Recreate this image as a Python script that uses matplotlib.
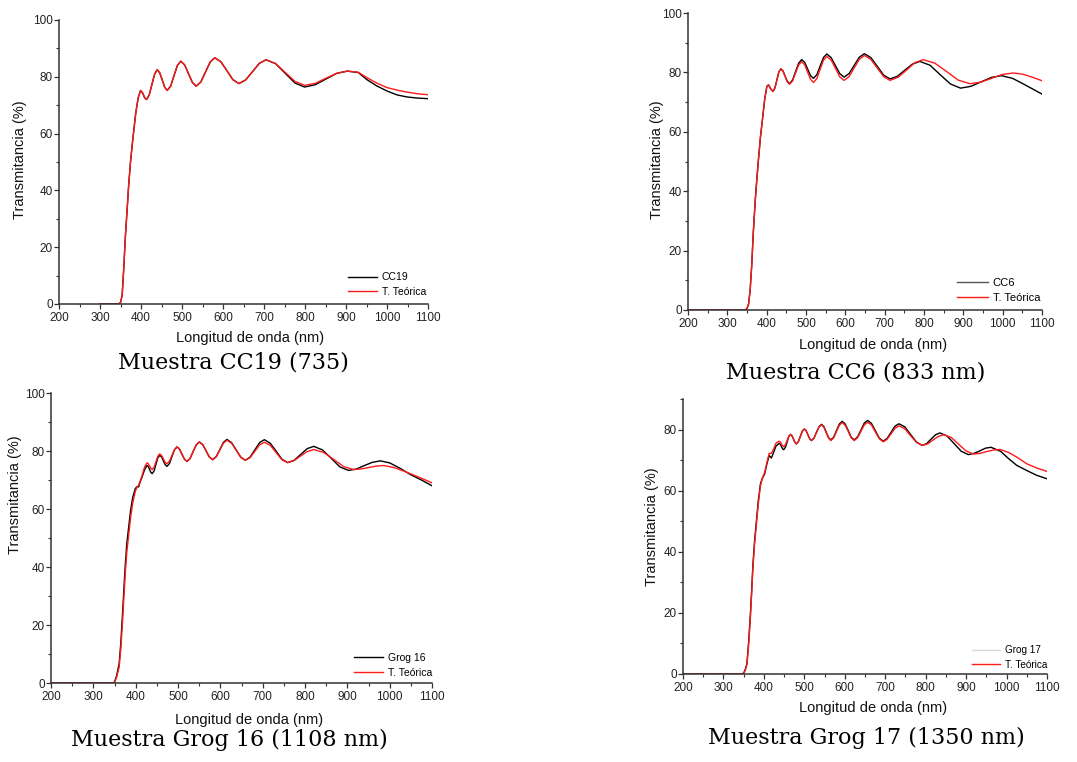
import matplotlib
matplotlib.use("Agg")
import matplotlib.pyplot as plt
from matplotlib.ticker import MultipleLocator

plt.rcParams['font.family'] = ['Liberation Sans', 'DejaVu Sans']

# ---------------- data ----------------
# Panel 1: CC19
cc19_wl = [300, 345, 350, 354, 358, 362, 366.5, 370, 374.7, 380, 387, 393, 399, 404, 409, 413.6,
           420.1, 426.6, 433.1, 439.6, 445.7, 451.8, 457.9, 464, 472.3, 480.5, 488.8, 497,
           506.4, 515.9, 525.3, 534.7, 546, 557.4, 568.7, 580, 594.7, 609.4, 624, 638.7,
           655.3, 671.9, 688.4, 705, 728.5, 752, 775.5, 799, 825, 851, 877, 903,
           930, 951, 975, 1000, 1025, 1049, 1075, 1100]
cc19_exp = [0, 0, 0.5, 3, 12.7, 24, 34, 42, 50.5, 58, 67, 72.5, 75.2, 74.3, 72.6, 72,
            73.6, 77.3, 80.9, 82.5, 81.4, 78.9, 76.3, 75.2, 76.7, 80.4, 84.0, 85.5,
            84.2, 81.1, 78.0, 76.7, 78.2, 81.7, 85.2, 86.7, 85.3, 82.2, 79.0, 77.6,
            78.9, 81.8, 84.7, 86.0, 84.6, 81.2, 77.8, 76.4, 77.2, 79.2, 81.2, 82.0,
            81.5, 79.0, 76.8, 75.0, 73.6, 72.9, 72.5, 72.3]
cc19_teo = [0, 0, 0.5, 3, 12.7, 24, 34, 42, 50.5, 58, 67, 72.5, 75.2, 74.3, 72.6, 72,
            73.6, 77.3, 80.9, 82.5, 81.4, 78.9, 76.3, 75.2, 76.7, 80.4, 84.0, 85.5,
            84.2, 81.1, 78.0, 76.7, 78.2, 81.7, 85.2, 86.7, 85.3, 82.2, 79.0, 77.6,
            78.9, 81.8, 84.7, 86.0, 84.65, 81.5, 78.4, 77.0, 77.7, 79.5, 81.2, 82.0,
            81.6, 79.7, 77.8, 76.2, 75.3, 74.6, 74.0, 73.7]

# Panel 2: CC6
cc6_wl = [200, 345, 350, 354, 358, 362, 366, 371, 375, 379, 384, 390, 395, 400.5, 404.7, 410, 415.7,
          420.8, 425.9, 430.9, 436, 441.5, 447, 452.5, 458, 465.8, 473.5, 481.3, 489,
          496.5, 504, 511.5, 519, 527.5, 535.9, 544.4, 552.8, 563.8, 574.8, 585.8, 596.8,
          609.7, 622.6, 635.5, 648.4, 664.7, 681, 697.2, 713.5, 732.5, 751.6, 770.6, 789.7,
          815.5, 841.3, 867.2, 893, 919, 945, 971, 997, 1025, 1050, 1075, 1100]
cc6_exp = [0, 0, 0.5, 2, 6.7, 15, 26, 37, 44, 50.5, 58, 65, 71, 75.3, 75.8, 74.5, 73.6,
           74.7, 77.4, 80.1, 81.2, 80.5, 78.7, 77.0, 76.2, 77.4, 80.3, 83.1, 84.3,
           83.4, 81.2, 78.9, 78.0, 79.2, 82.1, 85.0, 86.2, 85.0, 82.3, 79.6, 78.4,
           79.6, 82.4, 85.1, 86.3, 85.0, 82.1, 79.1, 77.8, 78.7, 80.8, 82.8, 83.7,
           82.4, 79.2, 76.1, 74.7, 75.3, 76.8, 78.3, 78.9, 78.0, 76.3, 74.5, 72.7]
cc6_teo_wl = cc6_wl[:49] + [734.6, 755.8, 776.9, 798, 827.7, 857.3, 887, 916.6,
                            944, 971.6, 999, 1026.6, 1051, 1075, 1100]
cc6_teo = [0, 0, 0.5, 2, 6.7, 15, 26, 37, 44, 50.5, 58, 65, 71, 75.3, 75.8, 74.5, 73.6,
           74.7, 77.4, 80.1, 81.2, 80.4, 78.6, 76.8, 76.0, 77.1, 79.8, 82.5, 83.6,
           82.6, 80.1, 77.7, 76.6, 77.9, 81.0, 84.1, 85.4, 84.2, 81.4, 78.5, 77.3,
           78.6, 81.5, 84.4, 85.7, 84.4, 81.5, 78.6, 77.3, 78.4, 80.8, 83.3, 84.3,
           83.1, 80.3, 77.4, 76.2, 76.7, 78.0, 79.3, 79.8, 79.4, 78.4, 77.2]

# Panel 3: Grog 16
g16_wl = [200, 345, 350, 355, 361, 365, 369, 372, 375.6, 379, 383.5, 388, 393, 399, 403, 407,
          411, 415, 421, 426.8,
          429.9, 432.9, 436, 439, 443.4, 447.9, 452.3, 456.7, 461, 465.4, 469.7, 474,
          479.9, 485.8, 491.7, 497.6, 503.5, 509.3, 515.2, 521, 528.4, 535.7, 543.1, 550.4,
          558.3, 566.2, 574.1, 582, 590.4, 598.9, 607.3, 615.7, 626.5, 637.4, 648.2, 659,
          670.3, 681.5, 692.8, 704, 717.8, 731.5, 745.3, 759, 774.4, 789.8, 805.1, 820.5,
          841.1, 861.8, 882.4, 903, 921.8, 940.5, 959.3, 978,
          1000, 1025, 1050, 1075, 1100]
g16_exp = [0, 0, 0.3, 2.5, 6.7, 14, 24, 32, 41, 48, 53.8, 59.5, 64, 67, 67.7, 67.6,
           69.5, 71, 73.5, 75,
           74.6, 73.6, 72.6, 72.2, 73.1, 75.4, 77.6, 78.5, 78.0, 76.6, 75.3, 74.7,
           75.7, 78.1, 80.4, 81.4, 80.7, 78.9, 77.2, 76.4, 77.4, 79.8, 82.1, 83.1,
           82.2, 80.1, 77.9, 77.0, 78.1, 80.5, 83.0, 84.0, 82.9, 80.4, 77.9, 76.8,
           77.9, 80.4, 82.9, 83.9, 82.7, 80.0, 77.2, 76.0, 76.8, 78.8, 80.8, 81.6,
           80.4, 77.5, 74.5, 73.3, 73.8, 75.0, 76.1, 76.6,
           75.9, 74.0, 71.8, 70.0, 68.0]
g16_teo_wl = g16_wl[:68] + [844.1, 867.8, 891.4, 915, 932.8, 950.5, 968.3, 986,
                            1010, 1035, 1060, 1080, 1100]
g16_teo = [0, 0, 0.2, 2, 5.5, 12, 21, 29, 38, 45, 51, 57, 62, 66, 67.5, 68.2,
           69.8, 71.5, 74.5, 75.9,
           75.6, 74.8, 74.0, 73.6, 74.4, 76.3, 78.2, 79.0, 78.5, 77.3, 76.1, 75.6,
           76.5, 78.5, 80.5, 81.4, 80.7, 78.9, 77.2, 76.4, 77.4, 79.8, 82.1, 83.1,
           82.2, 80.1, 77.9, 77.0, 78.0, 80.4, 82.7, 83.7, 82.7, 80.3, 77.8, 76.8,
           77.7, 79.9, 82.1, 83.0, 82.0, 79.5, 77.0, 76.0, 76.7, 78.3, 79.8, 80.5,
           79.5, 77.1, 74.6, 73.6, 73.8, 74.3, 74.8, 75.0,
           74.3, 73.0, 71.5, 70.3, 69.0]

# Panel 4: Grog 17
g17_wl = [200, 345, 350, 354, 358, 362, 366.7, 370, 373, 377, 381.5, 386, 391.4, 396, 402, 407,
          413, 418.6, 424, 430, 437.6,
          440.5, 443.3, 446.2, 449, 453.2, 457.4, 461.5, 465.7, 469.4, 473.1, 476.8, 480.5,
          485.4, 490.3, 495.1, 500, 504.4, 508.8, 513.2, 517.6, 523.8, 530, 536.2, 542.4,
          548.2, 554, 559.8, 565.5, 572.5, 579.6, 586.6, 593.6, 601, 608.5, 615.9, 623.3,
          631.6, 639.8, 648.1, 656.3, 666, 675.7, 685.3, 695, 704.7, 714.4, 724.1, 733.8,
          748.3, 762.7, 777.2, 791.6, 802.5, 813.5, 824.4, 835.3, 852.8, 870.4, 887.9, 905.4,
          919.5, 933.5, 947.6, 961.6, 985, 1005, 1025, 1050, 1075, 1100]
g17_exp = [0, 0, 0.3, 1.5, 3.4, 10, 19.7, 28, 36, 43.5, 50, 56.5, 62.2, 64, 65.5, 68.5,
           71.5, 70.7, 72.5, 74.6, 75.5,
           75.2, 74.5, 73.7, 73.4, 74.2, 75.9, 77.7, 78.4, 78.0, 76.9, 75.8, 75.3,
           76.1, 77.8, 79.5, 80.2, 79.6, 78.3, 77.0, 76.4, 77.2, 79.1, 80.9, 81.7,
           81.0, 79.2, 77.4, 76.6, 77.5, 79.7, 81.8, 82.7, 81.8, 79.7, 77.5, 76.6,
           77.6, 79.8, 82.1, 83.0, 82.0, 79.6, 77.2, 76.2, 77.1, 79.1, 81.1, 81.9,
           80.9, 78.4, 75.9, 74.8, 75.4, 76.9, 78.3, 78.9, 77.9, 75.4, 72.9, 71.8,
           72.2, 73.0, 73.9, 74.2, 72.9, 70.5, 68.3, 66.6, 65.0, 63.9]
g17_teo_wl = g17_wl[:73] + [805, 818.3, 831.7, 845, 863.3, 881.5, 899.8, 918,
                            934.5, 950.9, 967.4, 983.8, 1005, 1025, 1050, 1075, 1100]
g17_teo = [0, 0, 0.2, 1.2, 3, 9, 18.5, 27, 35, 42.5, 49, 55.5, 61.5, 64, 66, 69,
           72.2, 72.2, 73.6, 75.6, 76.2,
           76.0, 75.3, 74.7, 74.4, 75.0, 76.4, 77.8, 78.4, 78.0, 76.9, 75.8, 75.3,
           76.1, 77.8, 79.5, 80.2, 79.6, 78.3, 77.0, 76.4, 77.2, 79.0, 80.8, 81.5,
           80.8, 79.0, 77.2, 76.4, 77.3, 79.4, 81.4, 82.3, 81.4, 79.4, 77.3, 76.4,
           77.3, 79.4, 81.5, 82.4, 81.5, 79.2, 77.0, 76.0, 76.8, 78.6, 80.4, 81.2,
           80.3, 78.0, 75.8, 74.8, 75.3, 76.6, 77.8, 78.3, 77.4, 75.2, 73.0, 72.0,
           72.2, 72.8, 73.3, 73.5, 72.5, 71.0, 68.8, 67.4, 66.3]

exp_labels = ["CC19", "CC6", "Grog 16", "Grog 17"]
captions = ["Muestra CC19 (735)", "Muestra CC6 (833 nm)",
            "Muestra Grog 16 (1108 nm)", "Muestra Grog 17 (1350 nm)"]
y_tops = [100, 100, 100, 90]

# ---------------- layout (pixels) ----------------
W, H = 1077, 762


def rect(l, t, r, b):
    return [l / W, 1 - b / H, (r - l) / W, (b - t) / H]


def fx(x):
    return x / W


def fy(y):
    return 1 - y / H


panels = [
    dict(box=(59, 20, 428, 304), wl=cc19_wl, e=cc19_exp, twl=cc19_wl, t=cc19_teo,
         leg=(0.995, 0.025), legfs=7.5, xl=(250, 338), yl=(20, 160), cap=(233, 362)),
    dict(box=(688, 13, 1042, 310), wl=cc6_wl, e=cc6_exp, twl=cc6_teo_wl, t=cc6_teo,
         leg=(0.995, 0.025), legfs=8, xl=(873, 345), yl=(657, 160), cap=(856, 372)),
    dict(box=(51, 393, 432, 683), wl=g16_wl, e=g16_exp, twl=g16_teo_wl, t=g16_teo,
         leg=(1.0, 0.018), legfs=7.5, xl=(249, 720), yl=(15, 495), cap=(229, 740)),
    dict(box=(683, 399, 1047, 674), wl=g17_wl, e=g17_exp, twl=g17_teo_wl, t=g17_teo,
         leg=(1.0, 0.015), legfs=7.2, xl=(873, 708), yl=(652, 527), cap=(866, 738)),
]

fig = plt.figure(figsize=(W / 100, H / 100), dpi=100)

for i, p in enumerate(panels):
    ax = fig.add_axes(rect(*p["box"]))
    ax.plot(p["wl"], p["e"], color="black", lw=1.0, label=exp_labels[i])
    ax.plot(p["twl"], p["t"], color="#ff1a1a", lw=1.0, label="T. Teórica")
    ax.set_xlim(200, 1100)
    ax.set_ylim(0, y_tops[i])
    ax.xaxis.set_major_locator(MultipleLocator(100))
    ax.xaxis.set_minor_locator(MultipleLocator(50))
    ax.yaxis.set_major_locator(MultipleLocator(20))
    ax.yaxis.set_minor_locator(MultipleLocator(10))
    for s in ("top", "right"):
        ax.spines[s].set_visible(False)
    for s in ("left", "bottom"):
        ax.spines[s].set_linewidth(1.1)
        ax.spines[s].set_color("#333333")
    ax.tick_params(which="major", length=3.5, width=0.9, color="#333333",
                   labelsize=8.5, labelcolor="#222222")
    ax.tick_params(which="minor", length=2.2, width=0.8, color="#333333")
    ax.tick_params(axis="x", which="major", pad=2.5)
    ax.tick_params(axis="y", which="major", pad=1)

    leg = ax.legend(loc="lower right", bbox_to_anchor=p["leg"], frameon=False,
                    fontsize=p["legfs"], handlelength=2.8, handletextpad=0.45,
                    labelspacing=0.45, borderaxespad=0, borderpad=0)
    if i == 1:
        leg.legend_handles[0].set_color("#555555")
    if i == 3:
        leg.legend_handles[0].set_color("#d8d8d8")

    fig.text(fx(p["xl"][0]), fy(p["xl"][1]), "Longitud de onda (nm)", ha="center",
             va="center", fontsize=10.5, color="#111111")
    fig.text(fx(p["yl"][0]), fy(p["yl"][1]), "Transmitancia (%)", ha="center",
             va="center", rotation=90, fontsize=10.5, color="#111111")
    fig.text(fx(p["cap"][0]), fy(p["cap"][1]), captions[i], ha="center", va="center",
             fontsize=16, family="DejaVu Serif", color="black")

fig.savefig("out.png", dpi=100)
